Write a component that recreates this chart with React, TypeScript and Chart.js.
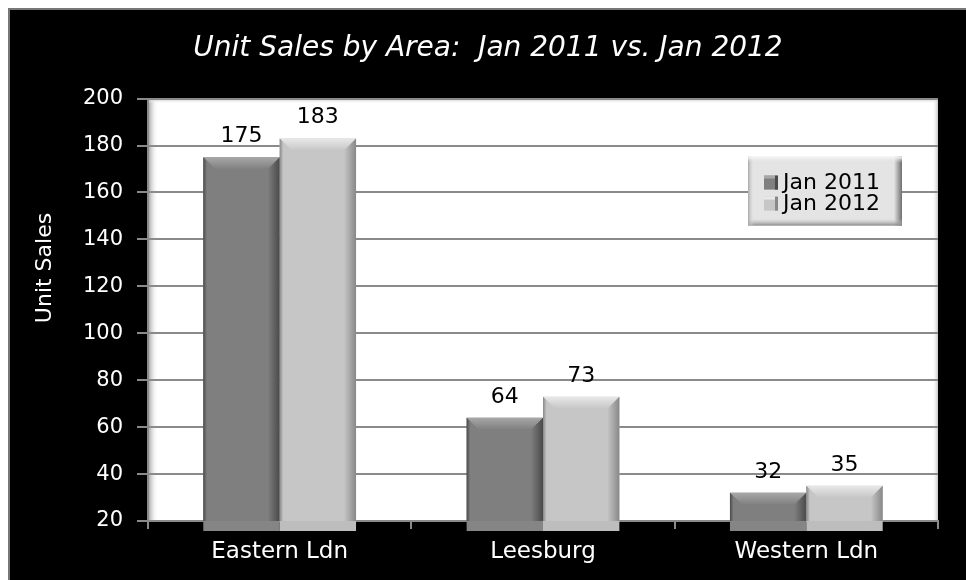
import React, { useEffect, useRef } from "react";
import { Chart, registerables } from "chart.js";

Chart.register(...registerables);

const categories = ["Eastern Ldn", "Leesburg", "Western Ldn"];
const seriesNames = ["Jan 2011", "Jan 2012"];
const jan2011 = [175, 64, 32];
const jan2012 = [183, 73, 35];
const yMin = 20;
const yMax = 200;
const yStep = 20;
const titleText = "Unit Sales by Area:  Jan 2011 vs. Jan 2012";
const yTitle = "Unit Sales";

const FONT = "'DejaVu Sans', sans-serif";
const faceColors = ["#7f7f7f", "#c6c6c6"];
const hiColors = ["#a8a8a8", "#e8e8e8"];
const darkColors = ["#4a4a4a", "#888888"];
const shadowColors = ["#858585", "#bdbdbd"];

const plotBg = {
  id: "plotBg",
  beforeDraw(chart: any) {
    const { ctx, chartArea: a } = chart;
    ctx.save();
    ctx.fillStyle = "#ffffff";
    ctx.fillRect(a.left, a.top, a.right - a.left, a.bottom - a.top);
    const g = ctx.createLinearGradient(a.left, 0, a.left + 10, 0);
    g.addColorStop(0, "#9a9a9a");
    g.addColorStop(1, "rgba(255,255,255,0)");
    ctx.fillStyle = g;
    ctx.fillRect(a.left, a.top, 10, a.bottom - a.top);
    const g2 = ctx.createLinearGradient(0, a.top, 0, a.top + 5);
    g2.addColorStop(0, "#bbbbbb");
    g2.addColorStop(1, "rgba(255,255,255,0)");
    ctx.fillStyle = g2;
    ctx.fillRect(a.left, a.top, a.right - a.left, 5);
    const g3 = ctx.createLinearGradient(a.right - 6, 0, a.right, 0);
    g3.addColorStop(0, "rgba(255,255,255,0)");
    g3.addColorStop(1, "#c8c8c8");
    ctx.fillStyle = g3;
    ctx.fillRect(a.right - 6, a.top, 6, a.bottom - a.top);
    ctx.restore();
  },
  afterDraw(chart: any) {
    const { ctx } = chart;
    ctx.save();
    ctx.translate(35, 258);
    ctx.rotate(-Math.PI / 2);
    ctx.fillStyle = "#ffffff";
    ctx.font = `22px ${FONT}`;
    ctx.textAlign = "center";
    ctx.textBaseline = "middle";
    ctx.fillText(yTitle, 0, 0);
    ctx.restore();
  },
};

const bevelBars = {
  id: "bevelBars",
  afterDatasetsDraw(chart: any) {
    const { ctx, chartArea: a } = chart;
    ctx.save();
    chart.data.datasets.forEach((ds: any, di: number) => {
      const meta = chart.getDatasetMeta(di);
      meta.data.forEach((bar: any, i: number) => {
        const p = bar.getProps(["x", "y", "base", "width"], true);
        const l = p.x - p.width / 2;
        const r = p.x + p.width / 2;
        const t = p.y;
        const b = Math.min(p.base, a.bottom);
        const bv = 12;
        ctx.fillStyle = shadowColors[di];
        ctx.fillRect(l, b, r - l, 10);
        const gt = ctx.createLinearGradient(0, t, 0, t + bv);
        gt.addColorStop(0, hiColors[di]);
        gt.addColorStop(1, faceColors[di]);
        ctx.fillStyle = gt;
        ctx.beginPath();
        ctx.moveTo(l, t);
        ctx.lineTo(r, t);
        ctx.lineTo(r - bv, t + bv);
        ctx.lineTo(l + bv, t + bv);
        ctx.closePath();
        ctx.fill();
        const gr = ctx.createLinearGradient(r - bv, 0, r, 0);
        gr.addColorStop(0, faceColors[di]);
        gr.addColorStop(1, darkColors[di]);
        ctx.fillStyle = gr;
        ctx.beginPath();
        ctx.moveTo(r, t);
        ctx.lineTo(r, b);
        ctx.lineTo(r - bv, b);
        ctx.lineTo(r - bv, t + bv);
        ctx.closePath();
        ctx.fill();
        const gl = ctx.createLinearGradient(l, 0, l + bv, 0);
        gl.addColorStop(0, darkColors[di]);
        gl.addColorStop(0.3, faceColors[di]);
        gl.addColorStop(1, faceColors[di]);
        ctx.fillStyle = gl;
        ctx.beginPath();
        ctx.moveTo(l, t);
        ctx.lineTo(l + bv, t + bv);
        ctx.lineTo(l + bv, b);
        ctx.lineTo(l, b);
        ctx.closePath();
        ctx.fill();
        ctx.fillStyle = "#000000";
        ctx.font = `22px ${FONT}`;
        ctx.textAlign = "center";
        ctx.textBaseline = "alphabetic";
        ctx.fillText(String(ds.data[i]), p.x, t - 15);
      });
    });
    ctx.restore();
  },
};

const boxLegend = {
  id: "boxLegend",
  afterDraw(chart: any) {
    const { ctx, chartArea: a } = chart;
    const w = 154;
    const h = 69;
    const x = a.right - 36 - w;
    const y = a.top + 58;
    ctx.save();
    ctx.fillStyle = "#e4e4e4";
    ctx.fillRect(x, y, w, h);
    const gr = ctx.createLinearGradient(x + w - 8, 0, x + w, 0);
    gr.addColorStop(0, "#e4e4e4");
    gr.addColorStop(1, "#6e6e6e");
    ctx.fillStyle = gr;
    ctx.fillRect(x + w - 8, y, 8, h);
    const gb = ctx.createLinearGradient(0, y + h - 7, 0, y + h);
    gb.addColorStop(0, "rgba(200,200,200,0)");
    gb.addColorStop(1, "#8a8a8a");
    ctx.fillStyle = gb;
    ctx.fillRect(x, y + h - 7, w, 7);
    const gl = ctx.createLinearGradient(x, 0, x + 6, 0);
    gl.addColorStop(0, "#a8a8a8");
    gl.addColorStop(1, "rgba(228,228,228,0)");
    ctx.fillStyle = gl;
    ctx.fillRect(x, y, 6, h);
    const gtp = ctx.createLinearGradient(0, y, 0, y + 6);
    gtp.addColorStop(0, "#f8f8f8");
    gtp.addColorStop(1, "rgba(228,228,228,0)");
    ctx.fillStyle = gtp;
    ctx.fillRect(x, y, w, 6);
    chart.data.datasets.forEach((ds: any, di: number) => {
      const cy = y + 26 + di * 21;
      ctx.fillStyle = faceColors[di];
      ctx.fillRect(x + 16, cy - 7, 14, 14);
      ctx.fillStyle = hiColors[di];
      ctx.fillRect(x + 16, cy - 7, 14, 3);
      ctx.fillStyle = darkColors[di];
      ctx.fillRect(x + 27, cy - 7, 3, 14);
      ctx.fillStyle = "#000000";
      ctx.font = `22px ${FONT}`;
      ctx.textAlign = "left";
      ctx.textBaseline = "middle";
      ctx.fillText(ds.label, x + 35, cy + 1);
    });
    ctx.restore();
  },
};

export default function App() {
  const ref = useRef<HTMLCanvasElement | null>(null);
  useEffect(() => {
    if (!ref.current) return;
    const chart = new Chart(ref.current, {
      type: "bar",
      data: {
        labels: categories,
        datasets: [
          { label: seriesNames[0], data: jan2011, backgroundColor: faceColors[0] },
          { label: seriesNames[1], data: jan2012, backgroundColor: faceColors[1] },
        ],
      },
      options: {
        animation: false,
        responsive: false,
        maintainAspectRatio: false,
        layout: { padding: { left: 0, right: 0, top: 0, bottom: 0 } },
        datasets: { bar: { barPercentage: 1, categoryPercentage: 0.58 } } as any,
        plugins: {
          legend: { display: false },
          tooltip: { enabled: false },
          title: {
            display: true,
            text: titleText,
            color: "#ffffff",
            font: { family: FONT, size: 28, style: "italic", weight: "normal" },
            padding: { top: 22, bottom: 33 },
          },
        },
        scales: {
          x: {
            grid: {
              display: true,
              drawOnChartArea: false,
              drawTicks: true,
              tickLength: 8,
              color: "#8a8a8a",
              lineWidth: 2,
              offset: true,
            },
            border: { color: "#8a8a8a", width: 2 },
            ticks: { color: "#ffffff", font: { family: FONT, size: 23 }, padding: 9 },
            afterFit(scale: any) {
              scale.height = 59;
            },
          },
          y: {
            min: yMin,
            max: yMax,
            ticks: {
              stepSize: yStep,
              color: "#ffffff",
              font: { family: FONT, size: 21 },
              padding: 14,
            },
            grid: { color: "#8a8a8a", lineWidth: 2, tickLength: 11 },
            border: { color: "#8a8a8a", width: 2 },
            afterFit(scale: any) {
              scale.width = 138;
            },
          },
          yRight: {
            position: "right",
            display: true,
            min: yMin,
            max: yMax,
            grid: { display: false, drawOnChartArea: false, drawTicks: false },
            border: { display: false },
            ticks: { display: false },
            afterFit(scale: any) {
              scale.width = 28;
            },
          },
        },
      },
      plugins: [plotBg, bevelBars, boxLegend],
    });
    return () => chart.destroy();
  }, []);
  return (
    <div
      style={{
        position: "fixed",
        left: 8,
        top: 8,
        width: 958,
        height: 572,
        background: "#000000",
        borderTop: "2px solid #777777",
        borderLeft: "2px solid #777777",
        boxSizing: "border-box",
      }}
    >
      <canvas ref={ref} width={956} height={570} style={{ display: "block" }} />
    </div>
  );
}
